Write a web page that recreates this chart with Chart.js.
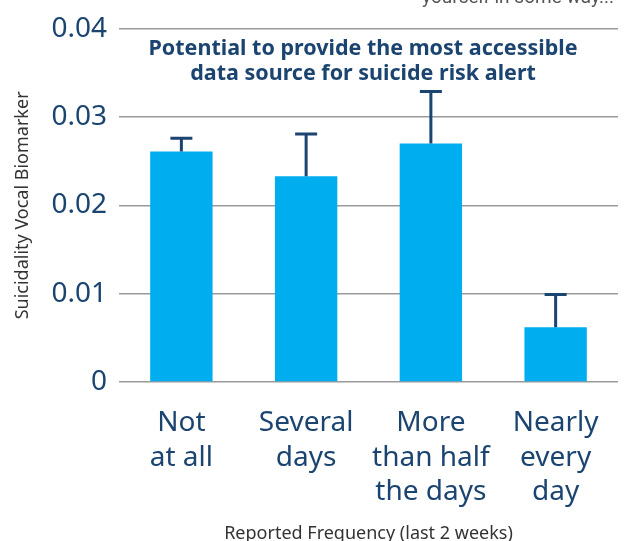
<!DOCTYPE html>
<html>
<head>
<meta charset="utf-8">
<script src="https://cdn.jsdelivr.net/npm/chart.js@4.4.1/dist/chart.umd.min.js"></script>
<style>
  html, body { margin: 0; padding: 0; background: #fff; overflow: hidden; }
</style>
</head>
<body>
<canvas id="chart" width="625" height="541"></canvas>
<script>
// --- Data ---
const categories = [
  ['Not', 'at all'],
  ['Several', 'days'],
  ['More', 'than half', 'the days'],
  ['Nearly', 'every', 'day']
];
const biomarkerMeans = [0.0261, 0.0233, 0.0270, 0.0062];
const errorUpper = [0.0276, 0.0281, 0.0329, 0.0099];
const yTicks = [0, 0.01, 0.02, 0.03, 0.04];

const titleLines = ['Potential to provide the most accessible', 'data source for suicide risk alert'];
const topCaption = 'yourself in some way...';

const NAVY = '#1b4470';
const FONT = '"Noto Sans", "Open Sans", sans-serif';

// error bars drawn from the y scale
const errorBarPlugin = {
  id: 'errorBars',
  afterDatasetsDraw(chart) {
    const ctx = chart.ctx;
    const meta = chart.getDatasetMeta(0);
    const y = chart.scales.y;
    ctx.save();
    ctx.strokeStyle = NAVY;
    ctx.lineWidth = 3;
    meta.data.forEach((bar, i) => {
      const top = y.getPixelForValue(errorUpper[i]);
      ctx.beginPath();
      ctx.moveTo(bar.x, bar.y);
      ctx.lineTo(bar.x, top);
      ctx.moveTo(bar.x - 11, top);
      ctx.lineTo(bar.x + 11, top);
      ctx.stroke();
    });
    ctx.restore();
  }
};

// bold heading inside the plot and clipped caption at the top
const textPlugin = {
  id: 'overlayText',
  afterDraw(chart) {
    const ctx = chart.ctx;
    ctx.save();
    ctx.textAlign = 'center';
    ctx.textBaseline = 'alphabetic';
    ctx.fillStyle = NAVY;
    ctx.font = 'bold 21.5px ' + FONT;
    ctx.fillText(titleLines[0], 363, 55);
    ctx.fillText(titleLines[1], 363, 80);
    ctx.fillStyle = '#555';
    ctx.font = '19px Roboto, ' + FONT;
    ctx.fillText(topCaption, 518, 3);
    ctx.restore();
  }
};

new Chart(document.getElementById('chart'), {
  type: 'bar',
  data: {
    labels: categories,
    datasets: [{
      data: biomarkerMeans,
      backgroundColor: '#00adef',
      borderWidth: 0,
      categoryPercentage: 1,
      barPercentage: 0.5
    }]
  },
  options: {
    responsive: false,
    animation: false,
    devicePixelRatio: 1,
    layout: { padding: { top: 12, right: 7, left: 12, bottom: 0 } },
    plugins: {
      legend: { display: false },
      tooltip: { enabled: false }
    },
    scales: {
      x: {
        grid: { display: false },
        border: { display: false },
        ticks: {
          color: NAVY,
          font: { family: FONT, size: 28, lineHeight: 1.23 },
          padding: 16,
          maxRotation: 0,
          autoSkip: false
        },
        title: {
          display: true,
          text: 'Reported Frequency (last 2 weeks)',
          color: '#333',
          font: { family: FONT, size: 18 },
          padding: { top: 10, bottom: -4 }
        },
        afterFit(scale) { scale.height = 159; }
      },
      y: {
        min: 0,
        max: 0.04,
        afterBuildTicks(scale) { scale.ticks = yTicks.map(v => ({ value: v })); },
        grid: {
          color: '#9a9a9a',
          lineWidth: 1.5,
          drawTicks: false
        },
        border: { display: false },
        ticks: {
          color: NAVY,
          font: { family: FONT, size: 28 },
          padding: 12,
          callback: v => (v === 0 ? '0' : v.toFixed(2))
        },
        title: {
          display: true,
          text: 'Suicidality Vocal Biomarker',
          color: '#333',
          font: { family: FONT, size: 18 },
          padding: { top: 0, bottom: 9 }
        },
        afterFit(scale) { scale.width = 107; }
      }
    }
  },
  plugins: [errorBarPlugin, textPlugin]
});
</script>
</body>
</html>
